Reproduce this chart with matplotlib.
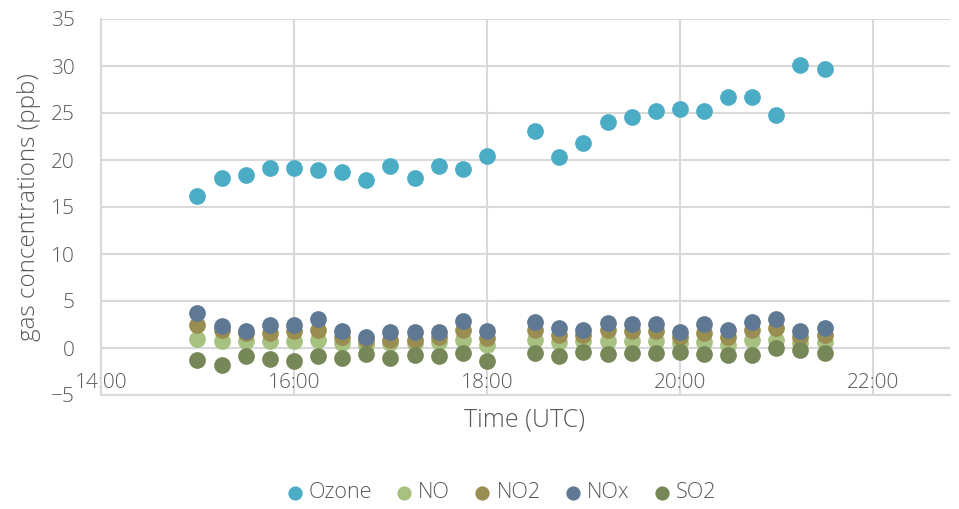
import matplotlib
matplotlib.use("Agg")
import matplotlib.pyplot as plt
from matplotlib.ticker import FixedLocator, FuncFormatter

plt.rcParams['font.family'] = ['Open Sans', 'DejaVu Sans']

times = ["15:00", "15:15", "15:30", "15:45", "16:00", "16:15", "16:30", "16:45",
         "17:00", "17:15", "17:30", "17:45", "18:00", "18:30", "18:45", "19:00",
         "19:15", "19:30", "19:45", "20:00", "20:15", "20:30", "20:45", "21:00",
         "21:15", "21:30"]
ozone = [16.2, 18.1, 18.4, 19.1, 19.1, 18.9, 18.7, 17.9, 19.4, 18.1, 19.4, 19.0, 20.4,
         23.1, 20.3, 21.8, 24.0, 24.6, 25.2, 25.4, 25.2, 26.7, 26.7, 24.8, 30.1, 29.7]
no = [1.0, 0.7, 0.7, 0.7, 0.7, 0.9, 0.5, 0.3, 0.5, 0.5, 0.6, 0.9, 0.3,
      0.8, 0.6, 0.7, 0.7, 0.7, 0.7, 0.5, 0.6, 0.3, 0.85, 0.85, 0.5, 0.6]
no2 = [2.4, 1.9, 1.6, 1.6, 1.8, 1.9, 1.2, 0.9, 0.9, 0.9, 1.2, 1.9, 1.05,
       1.9, 1.4, 1.4, 1.9, 1.8, 1.8, 1.2, 1.6, 1.2, 1.9, 2.1, 1.2, 1.4]
nox = [3.7, 2.3, 1.8, 2.4, 2.4, 3.05, 1.85, 1.2, 1.75, 1.65, 1.75, 2.9, 1.85,
       2.8, 2.1, 1.95, 2.7, 2.55, 2.55, 1.75, 2.55, 1.9, 2.8, 3.05, 1.85, 2.1]
so2 = [-1.3, -1.8, -0.9, -1.2, -1.35, -0.9, -1.1, -0.6, -1.05, -0.75, -0.9, -0.55, -1.35,
       -0.55, -0.9, -0.4, -0.6, -0.55, -0.55, -0.4, -0.6, -0.75, -0.75, -0.05, -0.25, -0.55]

series = [("Ozone", ozone, "#4BACC6"),
          ("NO", no, "#A7C180"),
          ("NO2", no2, "#9A8D52"),
          ("NOx", nox, "#5F7893"),
          ("SO2", so2, "#778858")]

xtick_labels = ["14:00", "16:00", "18:00", "20:00", "22:00"]

def to_hours(s):
    h, m = s.split(":")
    return int(h) + int(m) / 60.0

x = [to_hours(t) for t in times]
xticks = [to_hours(t) for t in xtick_labels]

W, H = 959, 509
fig = plt.figure(figsize=(W / 100, H / 100), dpi=100)
ax = fig.add_axes([101 / W, 1 - 395 / H, (950 - 101) / W, (395 - 19) / H])

grid_c = "#D9D9D9"
text_c = "#595959"
fw = "light"

for name, vals, col in series:
    ax.scatter(x, vals, s=145, color=col, label=name, zorder=3, linewidths=0)

ax.set_xlim(14.0, 22.8)
ax.set_ylim(-5, 35)
ax.xaxis.set_major_locator(FixedLocator(xticks))
ax.xaxis.set_major_formatter(FuncFormatter(lambda v, p: "%02d:00" % int(round(v))))
ax.set_yticks(range(-5, 36, 5))
ax.grid(True, color=grid_c, linewidth=1.5, zorder=0)
ax.axhline(0, color="#BFBFBF", linewidth=1.5, zorder=1)
for s in ["top", "right"]:
    ax.spines[s].set_visible(False)
ax.spines["left"].set_color(grid_c)
ax.spines["bottom"].set_color(grid_c)
ax.spines["left"].set_linewidth(1.5)
ax.spines["bottom"].set_linewidth(1.5)
ax.tick_params(axis="both", length=0, labelsize=15, labelcolor=text_c)
ax.tick_params(axis="x", pad=-16)
ax.tick_params(axis="y", pad=19)
for lbl in ax.get_xticklabels() + ax.get_yticklabels():
    lbl.set_fontweight(fw)

ax.set_ylabel("gas concentrations (ppb)", fontsize=17.5, color=text_c,
              labelpad=7, fontweight=fw)
fig.text(525 / W, 1 - 420 / H, "Time (UTC)", fontsize=18, color=text_c,
         ha="center", va="center", fontweight=fw)

leg = fig.legend(loc="center", bbox_to_anchor=(500 / W, 1 - 493 / H), ncol=5,
                 frameon=False, prop={"size": 15.5, "weight": fw},
                 handlelength=1.0, handletextpad=0.15, columnspacing=1.0,
                 markerscale=0.85)
for t in leg.get_texts():
    t.set_color(text_c)

fig.savefig("out.png", dpi=100)
